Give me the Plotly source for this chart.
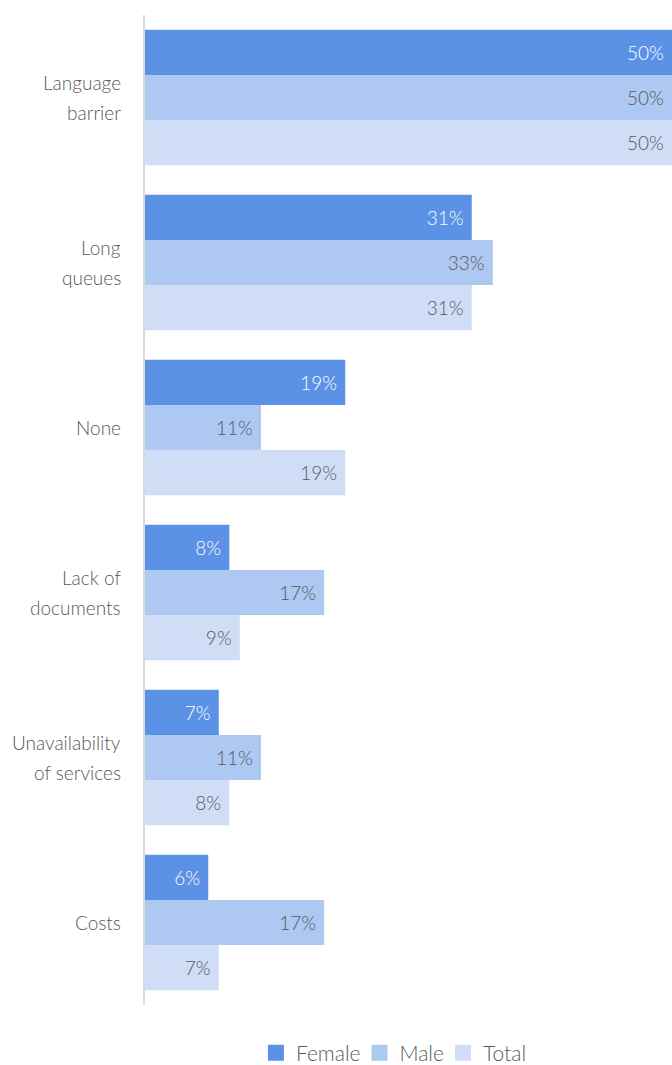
import plotly.graph_objects as go

categories = ["Language<br>barrier", "Long<br>queues", "None", "Lack of<br>documents",
              "Unavailability<br>of services", "Costs"]
female = [50, 31, 19, 8, 7, 6]
male = [50, 33, 11, 17, 11, 17]
total = [50, 31, 19, 9, 8, 7]

series = [
    ("Female", female, "#5B92E5", "#FFFFFF"),
    ("Male", male, "#ADC8F1", "#595959"),
    ("Total", total, "#CFDEF6", "#595959"),
]

FONT = "Lato"
GREY = "#595959"
PAD = "\u00a0"

fig = go.Figure()
for name, vals, color, txtcolor in series:
    fig.add_trace(go.Bar(
        name=name,
        y=categories,
        x=vals,
        orientation="h",
        marker=dict(color=color, line=dict(width=0)),
        text=[f"{v}%{PAD}" for v in vals],
        textposition="inside",
        insidetextanchor="end",
        textangle=0,
        textfont=dict(family=FONT, size=19, color=txtcolor, weight=300),
        constraintext="none",
        hoverinfo="skip",
        showlegend=False,
    ))

# legend entries with larger square swatches
for name, vals, color, txtcolor in series:
    fig.add_trace(go.Scatter(
        name=name,
        x=[None],
        y=[None],
        mode="markers",
        marker=dict(symbol="square", size=16, color=color),
        showlegend=True,
        hoverinfo="skip",
    ))

# category labels, one annotation per line for wider line spacing
LINE_GAP = 30
for cat in categories:
    lines = cat.split("<br>")
    n = len(lines)
    for i, line in enumerate(lines):
        offset = (n - 1) / 2 - i
        fig.add_annotation(
            x=0, xref="paper", xanchor="right", xshift=-22,
            y=cat, yref="y", yanchor="middle", yshift=offset * LINE_GAP,
            text=line, showarrow=False,
            font=dict(family=FONT, size=19, color=GREY, weight=300),
        )

fig.update_layout(
    width=672,
    height=1065,
    margin=dict(l=145, r=0, t=15, b=60, autoexpand=False),
    barmode="group",
    bargap=0.18,
    bargroupgap=0,
    plot_bgcolor="white",
    paper_bgcolor="white",
    font=dict(family=FONT, size=19, color=GREY, weight=300),
    showlegend=True,
    legend=dict(
        orientation="h",
        x=0.478,
        xanchor="center",
        yref="container",
        y=12 / 1065,
        yanchor="middle",
        font=dict(family=FONT, size=21, color=GREY, weight=300),
        itemwidth=30,
        indentation=-6,
        traceorder="normal",
    ),
)
fig.update_xaxes(range=[0, 50], visible=False, showgrid=False, zeroline=False)
fig.update_yaxes(
    autorange="reversed",
    showline=True,
    linecolor="#D9D9D9",
    linewidth=2,
    ticks="",
    showgrid=False,
    showticklabels=False,
)

fig.write_html("out.html")
